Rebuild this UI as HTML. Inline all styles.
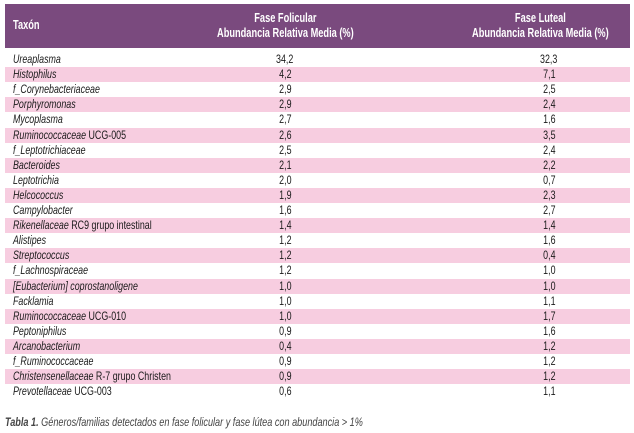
<!DOCTYPE html>
<html><head><meta charset="utf-8">
<style>
body{margin:0;width:634px;height:433px;background:#fff;position:relative;overflow:hidden;font-family:"Liberation Sans",sans-serif;}
#hdr{position:absolute;left:5px;top:4px;width:625px;height:44px;background:#7a4a7e;color:#fff;font-weight:bold;font-size:12.5px;}
.n{display:inline-block;transform:scaleX(0.74);white-space:nowrap;}
.h{position:absolute;text-align:center;line-height:15px;}
.row{position:absolute;left:5px;width:625px;height:15px;font-size:12px;color:#1a1a1a;line-height:15px;}
.row.p{background:#f7cde0;}
.lab{position:absolute;left:8px;transform-origin:left center;}
.v{position:absolute;width:80px;text-align:center;}
#cap{position:absolute;left:5px;top:415px;font-size:12px;color:#444;font-style:italic;transform:scaleX(0.76);transform-origin:left;white-space:nowrap;}
</style></head><body>
<div id="hdr">
<div class="h" style="left:8px;top:14px;"><span class="n" style="transform-origin:left center">Taxón</span></div>
<div class="h" style="left:180px;width:200px;top:7px;"><span class="n">Fase Folicular<br>Abundancia Relativa Media (%)</span></div>
<div class="h" style="left:435px;width:200px;top:7px;"><span class="n">Fase Luteal<br>Abundancia Relativa Media (%)</span></div>
</div>
<div id="rows"></div>
<div id="cap"><b>Tabla 1.</b> Géneros/familias detectados en fase folicular y fase lútea con abundancia &gt; 1%</div>
<script>
const taxa=["<i>Ureaplasma</i>","<i>Histophilus</i>","<i>f_Corynebacteriaceae</i>","<i>Porphyromonas</i>","<i>Mycoplasma</i>","<i>Ruminococcaceae</i> UCG-005","<i>f_Leptotrichiaceae</i>","<i>Bacteroides</i>","<i>Leptotrichia</i>","<i>Helcococcus</i>","<i>Campylobacter</i>","<i>Rikenellaceae</i> RC9 grupo intestinal","<i>Alistipes</i>","<i>Streptococcus</i>","<i>f_Lachnospiraceae</i>","<i>[Eubacterium] coprostanoligene</i>","<i>Facklamia</i>","<i>Ruminococcaceae</i> UCG-010","<i>Peptoniphilus</i>","<i>Arcanobacterium</i>","<i>f_Ruminococcaceae</i>","<i>Christensenellaceae</i> R-7 grupo Christen","<i>Prevotellaceae</i> UCG-003"];
const follicular=["34,2","4,2","2,9","2,9","2,7","2,6","2,5","2,1","2,0","1,9","1,6","1,4","1,2","1,2","1,2","1,0","1,0","1,0","0,9","0,4","0,9","0,9","0,6"];
const luteal=["32,3","7,1","2,5","2,4","1,6","3,5","2,4","2,2","0,7","2,3","2,7","1,4","1,6","0,4","1,0","1,0","1,1","1,7","1,6","1,2","1,2","1,2","1,1"];
const c=document.getElementById('rows');
taxa.forEach((t,i)=>{
 const r=document.createElement('div');
 r.className='row'+(i%2?' p':'');
 r.style.top=(52+i*15.1)+'px';
 
 
 r.innerHTML='<span class="n lab">'+t+'</span><div class="v" style="left:240px"><span class="n">'+follicular[i]+'</span></div><div class="v" style="left:504px"><span class="n">'+luteal[i]+'</span></div>';
 c.appendChild(r);
});
</script>
</body></html>
